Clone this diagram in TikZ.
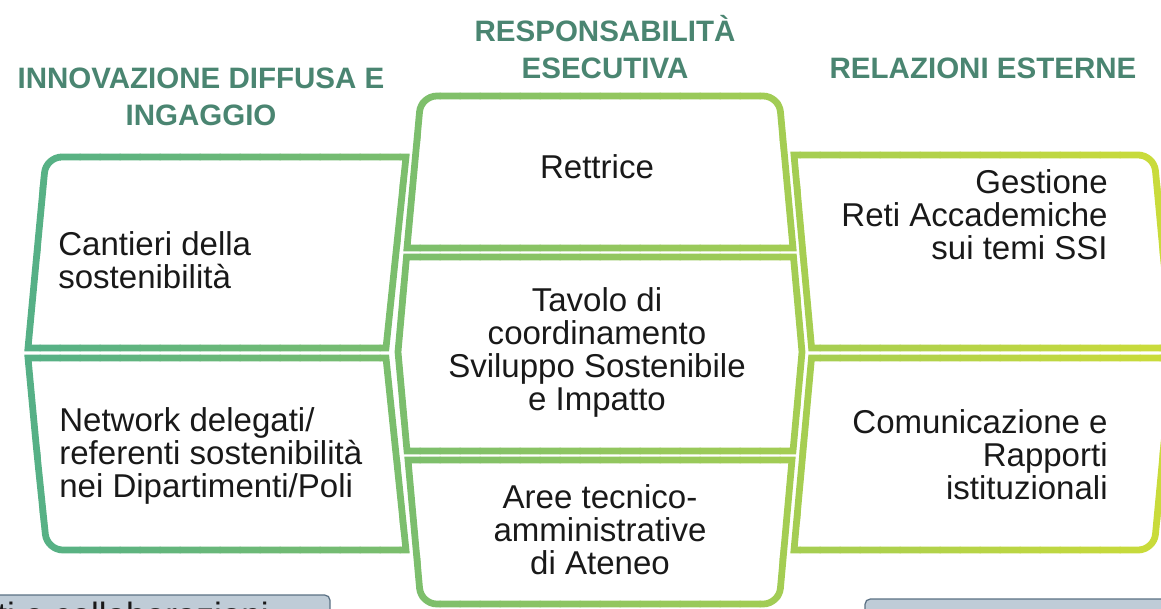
\documentclass[tikz,border=0pt]{standalone}
\usepackage{fontspec}
\setmainfont{Liberation Sans}
\definecolor{headcol}{HTML}{4A8571}
\definecolor{gA}{HTML}{52AF88}
\definecolor{gB}{HTML}{CADB3A}
\definecolor{boxfill}{HTML}{BFCCD7}
\definecolor{boxline}{HTML}{5B7184}
\colorlet{strokecol}{gA}
\tikzset{
  ring/.style={draw=strokecol, line width=0.135cm, line join=miter},
  head/.style={font=\bfseries\fontsize{16.8}{21}\selectfont, text=headcol, align=center},
  txt/.style={font=\fontsize{18.8}{18.8}\selectfont, text=black!90, inner sep=0pt},
  greybox/.style={draw=boxline, fill=boxfill, line width=0.025cm, rounded corners=3pt},
}
% the ten outlines, drawn once per colour strip
\newcommand{\colshapes}{%
 \draw[ring] (406,157) -- (386,348) -- (28,348) -- (37,252) [rounded corners=9pt] -- (46,157) -- (226,157) [sharp corners] -- cycle;
 \draw[ring] (28,358) -- (386,358) -- (406,550) -- (226,550) [rounded corners=9pt] -- (47,550) -- (37,454) [sharp corners] -- cycle;
 \draw[ring] (407,248) -- (414,172) [rounded corners=9pt] -- (421,96) -- (779,96) -- (786,172) [sharp corners] -- (793,248) -- cycle;
 \draw[ring] (406.5,257) -- (793.5,257) -- (802,352) -- (793,451) -- (407,451) -- (398,352) -- cycle;
 \draw[ring] (408,460) -- (792,460) -- (785.5,532) [rounded corners=9pt] -- (779,604) -- (421,604) -- (414.5,532) [sharp corners] -- cycle;
 \draw[ring] (811.6,348) -- (794,155) -- (974,155) [rounded corners=9pt] -- (1154,155) -- (1163,252) [sharp corners] -- (1172,348) -- cycle;
 \draw[ring] (811.5,358) -- (1172,358) -- (1163,454) [rounded corners=9pt] -- (1154,550) -- (974,550) [sharp corners] -- (794,550) -- cycle;
}
\begin{document}
\begin{tikzpicture}[x=0.02cm, y=-0.02cm]
\useasboundingbox (0,0) rectangle (1161,609);
\clip (0,0) rectangle (1161,609);
\foreach \i in {0,...,58}{
  \pgfmathtruncatemacro{\p}{min(100,round((\i*20+10)/11.61))}
  \begin{scope}
    \clip (\i*20-0.5,-10) rectangle (\i*20+20.5,620);
    \colorlet{strokecol}{gB!\p!gA}
    \colshapes
  \end{scope}
}
% headings
\node[head] (hleft) at (201,97) {INNOVAZIONE DIFFUSA E\\INGAGGIO};
\node[head] (hmid) at (605,47) {RESPONSABILITÀ\\ESECUTIVA};
\node[head] (hright) at (983,68) {RELAZIONI ESTERNE};
% texts
\node[txt, align=left, anchor=west] (cantieri) at (58,260) {Cantieri della\\sostenibilità};
\node[txt, align=left, anchor=west] (network) at (59,456) {Network delegati/\\referenti sostenibilità\\nei Dipartimenti/Poli};
\node[txt, align=center] (rettrice) at (597,167) {Rettrice};
\node[txt, align=center] (tavolo) at (597,352) {Tavolo di\\coordinamento\\Sviluppo Sostenibile\\e Impatto};
\node[txt, align=center] (aree) at (600,530) {Aree tecnico-\\amministrative\\di Ateneo};
\node[txt, align=right, anchor=east] (reti) at (1108,215) {Gestione\\Reti Accademiche\\sui temi SSI};
\node[txt, align=right, anchor=east] (comunic) at (1108,455) {Comunicazione e\\Rapporti\\istituzionali};
% cut boxes at the bottom
\draw[greybox] (-10,640) -- (-10,595) -- (330,595) -- (330,640);
\node[txt, anchor=base west, font=\fontsize{20}{20}\selectfont] (collab) at (-3,627) {ti e collaborazioni};
\draw[greybox] (865,640) -- (865,599) -- (1180,599) -- (1180,640);
\end{tikzpicture}
\end{document}
